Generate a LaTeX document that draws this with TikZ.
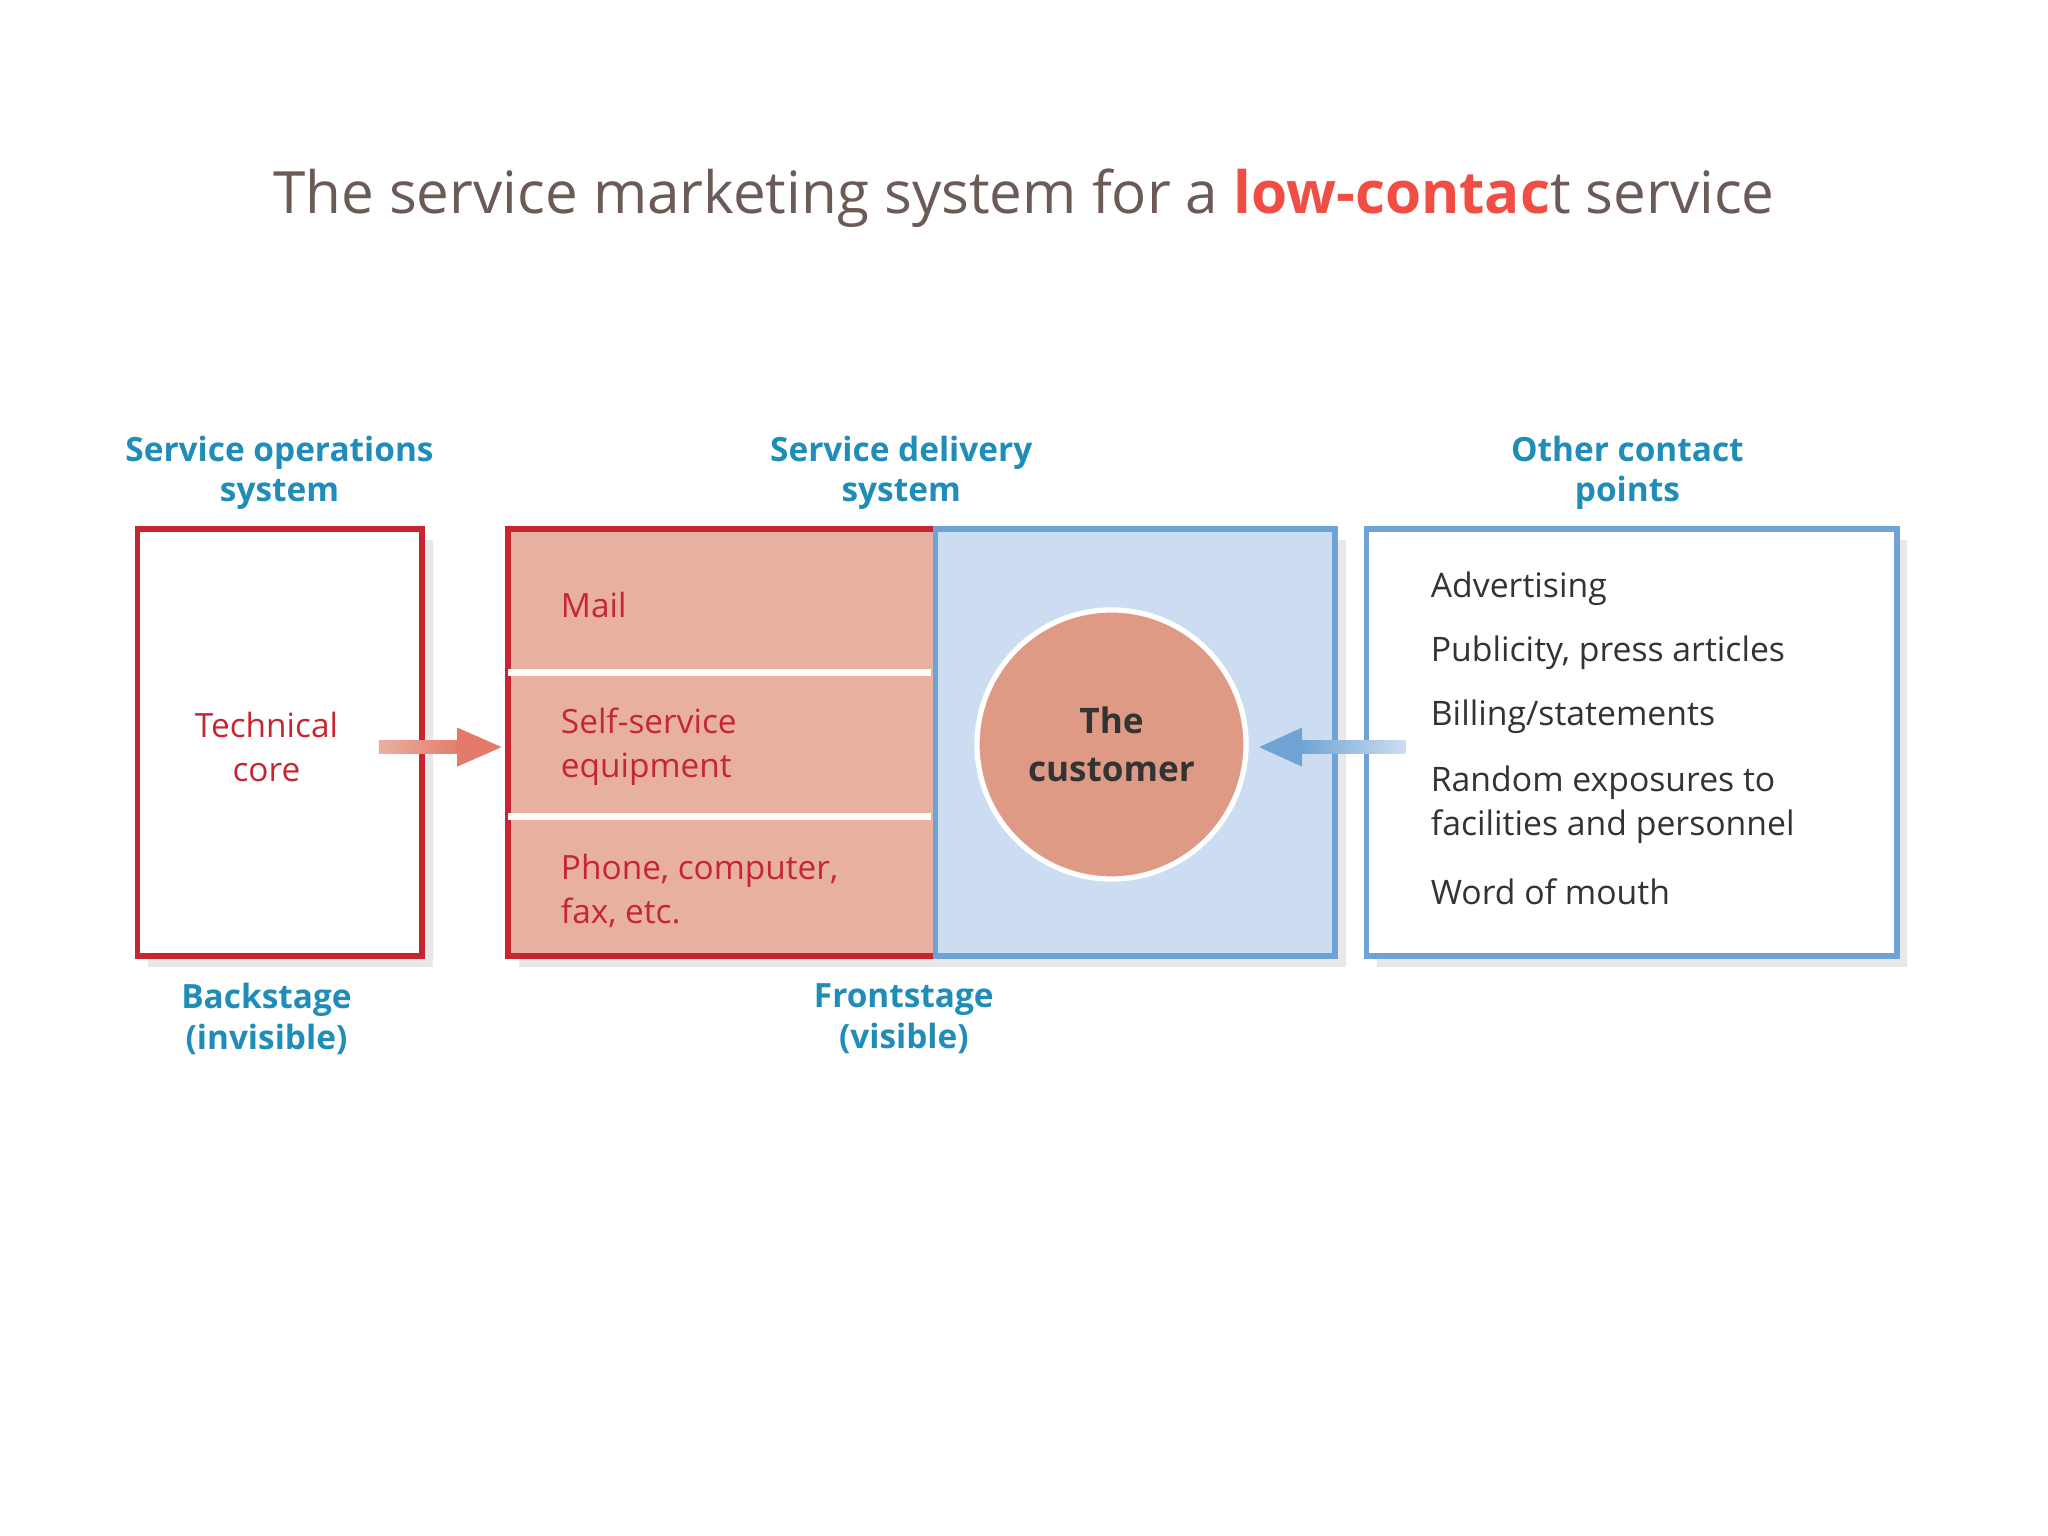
\documentclass[tikz,border=0pt]{standalone}
\usepackage{fontspec}
\setmainfont{Open Sans}
\usetikzlibrary{shadows,arrows.meta}
\definecolor{cred}{HTML}{C62631}
\definecolor{cpink}{HTML}{E8B0A0}
\definecolor{cblue}{HTML}{6FA3D3}
\definecolor{cbluef}{HTML}{CCDDF1}
\definecolor{cteal}{HTML}{1F8DB8}
\definecolor{ccirc}{HTML}{DE9A85}
\definecolor{ctitle}{HTML}{6B5A55}
\definecolor{chl}{HTML}{F04E45}
\definecolor{ctext}{HTML}{333333}
\tikzset{
 shad/.style={drop shadow={shadow xshift=3pt,shadow yshift=-3pt,opacity=0.15,fill=black!60}},
 hdr/.style={text=cteal,font=\fontsize{9.5}{11.5}\selectfont\bfseries,align=center},
 redtxt/.style={text=cred,font=\fontsize{9.5}{12.5}\selectfont,align=left},
 bodytxt/.style={text=ctext,font=\fontsize{9.6}{12.5}\selectfont,align=left,anchor=west},
}
\begin{document}
\begin{tikzpicture}[x=0.01306cm,y=-0.01306cm]
\useasboundingbox (0,0) rectangle (1568,1176);
\fill[white] (0,0) rectangle (1568,1176);
\node[text=ctitle,font=\fontsize{16.6}{20}\selectfont] (title) at (784,152) {The service marketing system for a \textcolor{chl}{\bfseries low-contac}t service};
% boxes
\node[draw=cred,line width=1.6pt,fill=white,shad,minimum width=218*0.01306cm,minimum height=327*0.01306cm,anchor=north west] (left) at (103,403) {};
\node[draw=cred,line width=1.6pt,fill=cpink,shad,minimum width=327*0.01306cm,minimum height=327*0.01306cm,anchor=north west] (mid) at (387,403) {};
\node[draw=cblue,line width=1.6pt,fill=cbluef,shad,minimum width=306*0.01306cm,minimum height=327*0.01306cm,anchor=north west] (blue) at (714,403) {};
\node[draw=cblue,line width=1.6pt,fill=white,shad,minimum width=406*0.01306cm,minimum height=327*0.01306cm,anchor=north west] (right) at (1044,403) {};
\draw[white,line width=2pt] (389,515) -- (713,515) (389,625) -- (713,625);
\node[circle,fill=ccirc,draw=white,line width=1.5pt,minimum size=206*0.01306cm,text=ctext,font=\fontsize{10}{13.5}\selectfont\bfseries,align=center] (cust) at (851,570) {The\\customer};
% texts
\node[redtxt,align=center] (tc) at (204,572) {Technical\\core};
\node[redtxt,anchor=west] (mail) at (420,463) {Mail};
\node[redtxt,anchor=west] (self) at (420,572) {Self-service\\equipment};
\node[redtxt,anchor=west] (phone) at (420,682) {Phone, computer,\\fax, etc.};
\node[bodytxt] (a1) at (1086,451) {Advertising};
\node[bodytxt] (a2) at (1086,500) {Publicity, press articles};
\node[bodytxt] (a3) at (1086,549) {Billing/statements};
\node[bodytxt] (a4) at (1086,616) {Random exposures to\\facilities and personnel};
\node[bodytxt] (a5) at (1086,683) {Word of mouth};
\node[hdr] (h1) at (214,362) {Service operations\\system};
\node[hdr] (h2) at (690,362) {Service delivery\\system};
\node[hdr] (h3) at (1246,362) {Other contact\\points};
\node[hdr] (h4) at (204,780) {Backstage\\(invisible)};
\node[hdr] (h5) at (692,780) {Frontstage\\(visible)};
% arrows
\shade[left color=cpink,right color=ccirc!80!red] (290,567) rectangle (352,577);
\fill[ccirc!80!red] (350,557) -- (384,572) -- (350,587) -- cycle;
\shade[right color=cbluef,left color=cblue] (995,567) rectangle (1076,577);
\fill[cblue] (997,557) -- (964,572) -- (997,587) -- cycle;
\end{tikzpicture}
\end{document}
